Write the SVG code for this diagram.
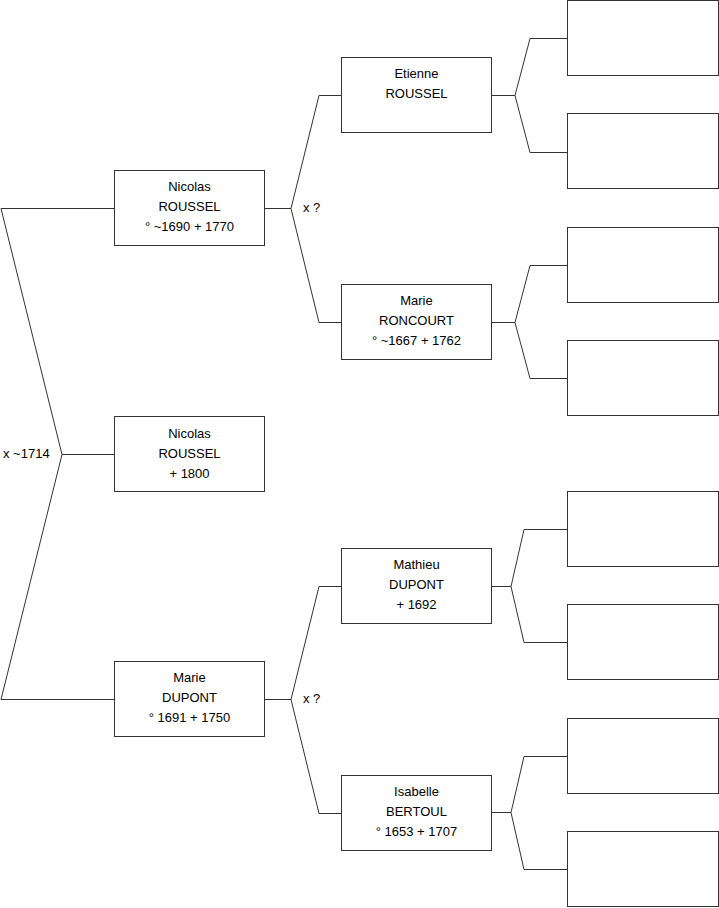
<svg xmlns="http://www.w3.org/2000/svg" width="719" height="908" viewBox="0 0 719 908">
<style>
.box{fill:#fff;stroke:#333;stroke-width:1}
.ln{fill:none;stroke:#333;stroke-width:1}
text{font-family:"Liberation Sans",Arial,sans-serif;font-size:13px;fill:#000}
.c{text-anchor:middle}
</style>
<rect width="719" height="908" fill="#fff"/>
<g id="connectors">
<polyline class="ln" points="114,454.5 62,454.5"/>
<polyline class="ln" points="62,454.5 1,208.5 114,208.5"/>
<polyline class="ln" points="62,454.5 1,699.5 114,699.5"/>
<polyline class="ln" points="265,208.5 291,208.5"/>
<polyline class="ln" points="291,208.5 319,95.5 341,95.5"/>
<polyline class="ln" points="291,208.5 319,322.5 341,322.5"/>
<polyline class="ln" points="265,699.5 291,699.5"/>
<polyline class="ln" points="291,699.5 319,586.5 341,586.5"/>
<polyline class="ln" points="291,699.5 319,813.5 341,813.5"/>
<polyline class="ln" points="492,95.5 515,95.5"/>
<polyline class="ln" points="515,95.5 530,38.5 567,38.5"/>
<polyline class="ln" points="515,95.5 530,152.5 567,152.5"/>
<polyline class="ln" points="492,322.5 515,322.5"/>
<polyline class="ln" points="515,322.5 530,265.5 567,265.5"/>
<polyline class="ln" points="515,322.5 530,378.5 567,378.5"/>
<polyline class="ln" points="492,586.5 511,586.5"/>
<polyline class="ln" points="511,586.5 524,529.5 567,529.5"/>
<polyline class="ln" points="511,586.5 524,642.5 567,642.5"/>
<polyline class="ln" points="492,812.5 511,812.5"/>
<polyline class="ln" points="511,812.5 524,756.5 567,756.5"/>
<polyline class="ln" points="511,812.5 524,869.5 567,869.5"/>
<text x="3" y="458">x ~1714</text>
<text x="303" y="212">x ?</text>
<text x="303" y="703">x ?</text>
</g>
<g id="n1"><rect class="box" x="114.5" y="416.5" width="150" height="75"/>
<text class="c" x="189.5" y="438">Nicolas</text><text class="c" x="189.5" y="458">ROUSSEL</text><text class="c" x="189.5" y="478">+ 1800</text></g>
<g id="n2"><rect class="box" x="114.5" y="170.5" width="150" height="75"/>
<text class="c" x="189.5" y="191">Nicolas</text><text class="c" x="189.5" y="211">ROUSSEL</text><text class="c" x="189.5" y="231">° ~1690 + 1770</text></g>
<g id="n3"><rect class="box" x="114.5" y="661.5" width="150" height="75"/>
<text class="c" x="189.5" y="682">Marie</text><text class="c" x="189.5" y="702">DUPONT</text><text class="c" x="189.5" y="722">° 1691 + 1750</text></g>
<g id="n4"><rect class="box" x="341.5" y="57.5" width="150" height="75"/>
<text class="c" x="416.5" y="78">Etienne</text><text class="c" x="416.5" y="98">ROUSSEL</text></g>
<g id="n5"><rect class="box" x="341.5" y="284.5" width="150" height="75"/>
<text class="c" x="416.5" y="305">Marie</text><text class="c" x="416.5" y="325">RONCOURT</text><text class="c" x="416.5" y="345">° ~1667 + 1762</text></g>
<g id="n6"><rect class="box" x="341.5" y="548.5" width="150" height="75"/>
<text class="c" x="416.5" y="569">Mathieu</text><text class="c" x="416.5" y="589">DUPONT</text><text class="c" x="416.5" y="609">+ 1692</text></g>
<g id="n7"><rect class="box" x="341.5" y="775.5" width="150" height="75"/>
<text class="c" x="416.5" y="796">Isabelle</text><text class="c" x="416.5" y="816">BERTOUL</text><text class="c" x="416.5" y="836">° 1653 + 1707</text></g>
<g id="n8"><rect class="box" x="567.5" y="0.5" width="151" height="75"/></g>
<g id="n9"><rect class="box" x="567.5" y="113.5" width="151" height="75"/></g>
<g id="n10"><rect class="box" x="567.5" y="227.5" width="151" height="75"/></g>
<g id="n11"><rect class="box" x="567.5" y="340.5" width="151" height="75"/></g>
<g id="n12"><rect class="box" x="567.5" y="491.5" width="151" height="75"/></g>
<g id="n13"><rect class="box" x="567.5" y="604.5" width="151" height="75"/></g>
<g id="n14"><rect class="box" x="567.5" y="718.5" width="151" height="75"/></g>
<g id="n15"><rect class="box" x="567.5" y="831.5" width="151" height="75"/></g>
</svg>
